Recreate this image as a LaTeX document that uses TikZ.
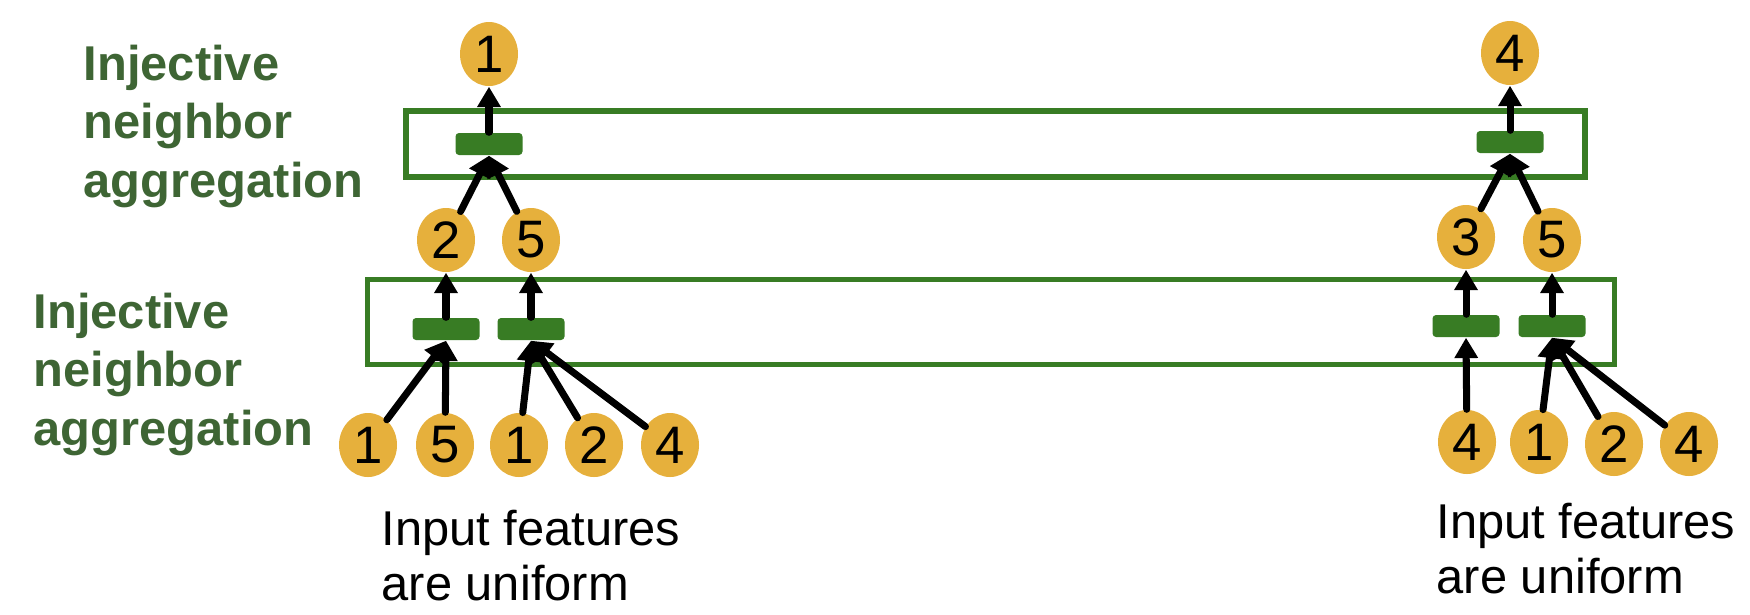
\documentclass[tikz,border=0pt]{standalone}
\usepackage{fontspec}
\setmainfont{Liberation Sans}
\usepackage{tikz}
\usetikzlibrary{shapes.geometric, arrows.meta}
\definecolor{featorange}{RGB}{230, 176, 60}
\definecolor{boxgreen}{RGB}{56, 124, 36}
\definecolor{labelgreen}{RGB}{62, 101, 52}
\tikzset{
  feat/.style={ellipse, fill=featorange, minimum width=0.58cm, minimum height=0.64cm, inner sep=0pt, font=\fontsize{15pt}{17pt}\selectfont},
  aggbar/.style={rectangle, rounded corners=1pt, fill=boxgreen, minimum width=0.67cm, minimum height=0.22cm, inner sep=0pt},
  aggbox/.style={draw=boxgreen},
  flow/.style={-{Triangle[length=5.8pt, width=6.4pt]}, line width=2pt, line cap=round},
  steplabel/.style={font=\bfseries\fontsize{13.9pt}{16.6pt}\selectfont, text=labelgreen, align=left, anchor=base west, inner sep=0pt},
  note/.style={font=\fontsize{13.9pt}{15.6pt}\selectfont, align=left, anchor=base west, inner sep=0pt}
}

\begin{document}
\begin{tikzpicture}
  \useasboundingbox (0,0) rectangle (17.5,-6.14);

  % Layer labels
  \node[steplabel] (lbltop) at (0.83,-1.97) {Injective\\neighbor\\aggregation};
  \node[steplabel] (lblbot) at (0.33,-4.45) {Injective\\neighbor\\aggregation};

  % Aggregation boxes
  \draw[aggbox, line width=1.9pt] (4.06,-1.11) rectangle (15.85,-1.77);
  \draw[aggbox, line width=1.42pt] (3.675,-2.795) rectangle (16.145,-3.645);

  % Left tree
  \node[feat] (rootL) at (4.89,-0.54) {1};
  \node[aggbar] (barL) at (4.89,-1.44) {};
  \node[feat] (midL1) at (4.46,-2.40) {2};
  \node[feat] (midL2) at (5.31,-2.40) {5};
  \node[aggbar] (barL1) at (4.46,-3.29) {};
  \node[aggbar] (barL2) at (5.31,-3.29) {};
  \node[feat] (inL1) at (3.68,-4.45) {1};
  \node[feat] (inL2) at (4.45,-4.45) {5};
  \node[feat] (inL3) at (5.19,-4.45) {1};
  \node[feat] (inL4) at (5.94,-4.45) {2};
  \node[feat] (inL5) at (6.70,-4.45) {4};
  \node[note] (noteL) at (3.81,-6.00) {Input features\\are uniform};

  \draw[flow] (barL) -- (rootL);
  \draw[flow] (midL1) -- (barL.south);
  \draw[flow] (midL2) -- (barL.south);
  \draw[flow] (barL1) -- (midL1);
  \draw[flow] (barL2) -- (midL2);
  \draw[flow] (inL1) -- (barL1.south);
  \draw[flow] (inL2) -- (barL1.south);
  \foreach \n in {inL3, inL4, inL5}
    \draw[flow] (\n) -- (barL2.south);

  % Right tree
  \node[feat] (rootR) at (15.10,-0.53) {4};
  \node[aggbar] (barR) at (15.10,-1.42) {};
  \node[feat] (midR1) at (14.66,-2.37) {3};
  \node[feat] (midR2) at (15.52,-2.40) {5};
  \node[aggbar] (barR1) at (14.66,-3.26) {};
  \node[aggbar] (barR2) at (15.52,-3.26) {};
  \node[feat] (inR1) at (14.67,-4.42) {4};
  \node[feat] (inR2) at (15.39,-4.42) {1};
  \node[feat] (inR3) at (16.14,-4.44) {2};
  \node[feat] (inR4) at (16.89,-4.44) {4};
  \node[note] (noteR) at (14.36,-5.93) {Input features\\are uniform};

  \draw[flow] (barR) -- (rootR);
  \draw[flow] (midR1) -- (barR.south);
  \draw[flow] (midR2) -- (barR.south);
  \draw[flow] (barR1) -- (midR1);
  \draw[flow] (barR2) -- (midR2);
  \draw[flow] (inR1) -- (barR1.south);
  \foreach \n in {inR2, inR3, inR4}
    \draw[flow] (\n) -- (barR2.south);
\end{tikzpicture}
\end{document}
